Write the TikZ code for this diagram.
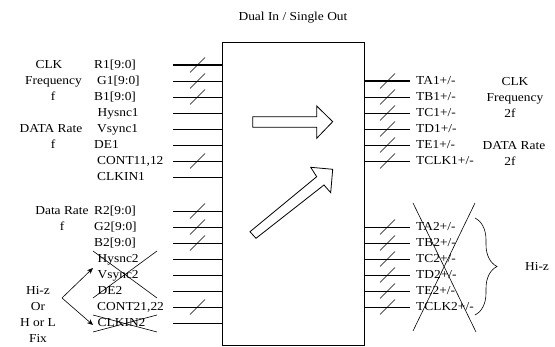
\documentclass[tikz,border=0pt]{standalone}
\usepackage{fontspec}
\setmainfont[FakeStretch=1.1]{Liberation Serif}
\usetikzlibrary{arrows.meta,decorations.pathreplacing}
\begin{document}
\begin{tikzpicture}[x=1pt,y=-1pt,
  txt/.style={inner sep=0pt,font=\fontsize{12.2}{14}\selectfont},
  lblw/.style={txt,anchor=base west},
  lblc/.style={txt,anchor=base},
  sig/.style={line width=0.8pt},
  slash/.style={line width=0.6pt},
  strike/.style={line width=0.6pt},
  blk/.style={draw,line width=0.8pt,fill=white},
  arr/.style={line width=0.6pt,-{Stealth[length=6pt,width=5pt]}}]
\useasboundingbox (0,0) rectangle (555,347);
% title
\node[lblc] (title) at (293,21) {Dual In / Single Out};
% chip
\node[draw,line width=0.9pt,inner sep=0pt,outer sep=0pt,minimum width=142pt,minimum height=303pt,anchor=north west] (chip) at (222,42) {};
% left inputs
\foreach \y/\t/\b/\x [count=\i] in {65/R1[9:0]/1/94,81/G1[9:0]/1/97,97/B1[9:0]/1/94,113/Hysnc1/0/97.5,129/Vsync1/0/97,145/DE1/0/94,161/{CONT11,12}/1/97,177/CLKIN1/0/97,
  211/R2[9:0]/1/94,227/G2[9:0]/1/94,243/B2[9:0]/1/94,259/Hysnc2/0/97.5,275/Vsync2/0/97.5,291/DE2/0/97.5,307/{CONT21,22}/1/97,323/CLKIN2/0/97.5}{
  \coordinate (l\i) at (173,\y);
  \node[lblw] (lt\i) at (\x,\y+4) {\t};
  \draw[sig] (l\i) -- (chip.west |- l\i);
  \ifnum\b=1 \draw[slash] (l\i) ++(17,7.5) -- ++(15,-15); \fi
}
\draw[line width=1.2pt] (l1) -- (chip.west |- l1);
% right outputs
\foreach \y/\t [count=\i] in {81/TA1,97/TB1,113/TC1,129/TD1,145/TE1,161/TCLK1,
  227/TA2,243/TB2,259/TC2,275/TD2,291/TE2,307/TCLK2}{
  \coordinate (r\i) at (410,\y);
  \node[lblw] (rt\i) at (416,\y+4) {\t+/-};
  \draw[sig] (chip.east |- r\i) -- (r\i);
  \draw[slash] (chip.east |- r\i) ++(16,7.5) -- ++(15,-15);
}
\draw[line width=1.2pt] (chip.east |- r1) -- (r1);
% left side labels
\node[lblc] (clkA) at (49,69) {CLK};
\node[lblc] (freqA) at (53.5,85) {Frequency};
\node[lblc] (fA) at (53,101) {f};
\node[lblc] (drA) at (51,133) {DATA Rate};
\node[lblc] (fB) at (53,149) {f};
\node[lblc] (drB) at (62,215) {Data Rate};
\node[lblc] (fC) at (62,231) {f};
\node[lblc] (hiz) at (38,295) {Hi-z};
\node[lblc] (or) at (38,311) {Or};
\node[lblc] (hol) at (38,327) {H or L};
\node[lblc] (fix) at (38,343) {Fix};
% right side labels
\node[lblc] (clkB) at (515,85.5) {CLK};
\node[lblc] (freqB) at (515,101.5) {Frequency};
\node[lblc] (f2A) at (510,117.5) {2f};
\node[lblc] (drC) at (514,149.5) {DATA Rate};
\node[lblc] (f2B) at (510,165.5) {2f};
\node[lblc] (hizR) at (537,271) {Hi-z};
% block arrows
\draw[blk] (252.7,116.7) -- (316.7,116.7) -- (316.7,106) -- (332.7,121.7) -- (316.7,138.3) -- (316.7,127.3) -- (252.7,127.3) -- cycle;
\draw[blk] (250,231.7) -- (316.7,176.7) -- (310.7,167.3) -- (332.7,169.3) -- (330.7,192.7) -- (324,185) -- (256,238.3) -- cycle;
% strike-outs left
\coordinate (xa1) at (93,251); \coordinate (xa2) at (157,298);
\coordinate (xb1) at (157,251); \coordinate (xb2) at (93,298);
\draw[strike] (xa1) -- (xa2);
\draw[strike] (xb1) -- (xb2);
\coordinate (xc1) at (93,315); \coordinate (xc2) at (157,332);
\coordinate (xd1) at (93,332); \coordinate (xd2) at (157,315);
\draw[strike] (xc1) -- (xc2);
\draw[strike] (xd1) -- (xd2);
% strike-out right
\coordinate (xe1) at (413,203); \coordinate (xe2) at (476,332);
\coordinate (xf1) at (475,203); \coordinate (xf2) at (413,331);
\draw[strike] (xe1) -- (xe2);
\draw[strike] (xf1) -- (xf2);
% brace
\coordinate (bt) at (475,218); \coordinate (bb) at (475,315);
\draw[line width=0.6pt,decorate,decoration={brace,amplitude=22pt,aspect=0.5}] (bt) -- (bb);
% fork arrows
\coordinate (fork) at (62,298);
\coordinate (tgtA) at (93,268);
\coordinate (tgtB) at (93,325);
\draw[arr] (fork) -- (tgtA);
\draw[arr] (fork) -- (tgtB);
\end{tikzpicture}
\end{document}
